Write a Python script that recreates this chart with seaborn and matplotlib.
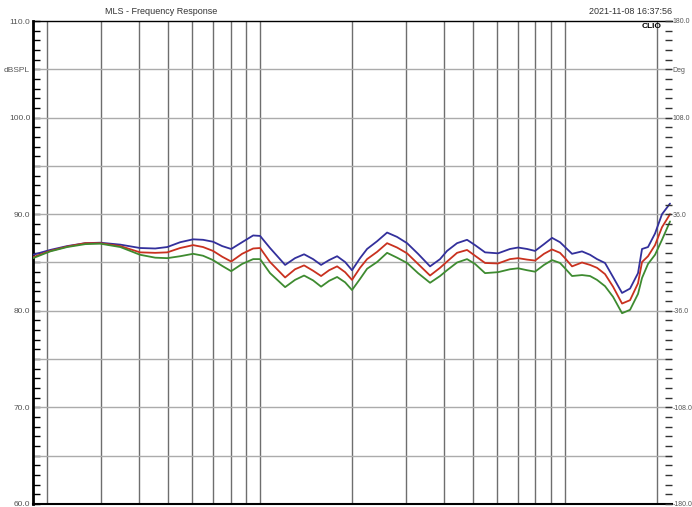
import matplotlib
matplotlib.use('Agg')
import matplotlib.pyplot as plt
import seaborn as sns
import pandas as pd
from matplotlib.ticker import FixedLocator, MultipleLocator, NullFormatter

# frequency points (Hz)
freq_hz = [180, 205, 233, 267, 299, 348, 404, 453, 496, 547, 603, 650, 701, 751,
           804, 873, 949, 1000, 1078, 1208, 1302, 1394, 1492, 1585, 1684, 1789,
           1900, 2002, 2127, 2243, 2419, 2609, 2813, 3034, 3296, 3609, 3892, 4103,
           4425, 4772, 5069, 5467, 6029, 6600, 7015, 7508, 7974, 8532, 9066, 9629,
           10000, 10544, 11368, 12078, 12733, 13526, 14370, 15382, 16339, 17353,
           17887, 18714, 19731, 20797, 22096]

# SPL (dB) of the three traces
spl_blue = [85.8, 86.3, 86.7, 87.0, 87.05, 86.85, 86.5, 86.45, 86.6, 87.1, 87.4, 87.35,
            87.15, 86.7, 86.4, 87.1, 87.8, 87.75, 86.5, 84.75, 85.45, 85.85, 85.35,
            84.75, 85.25, 85.65, 85.05, 84.2, 85.45, 86.4, 87.2, 88.1, 87.65, 87.0,
            85.9, 84.6, 85.35, 86.2, 87.0, 87.35, 86.8, 86.05, 85.95, 86.4, 86.55,
            86.4, 86.2, 86.9, 87.55, 87.1, 86.6, 85.9, 86.15, 85.8, 85.35, 84.95,
            83.5, 81.85, 82.3, 83.9, 86.4, 86.6, 88.0, 90.0, 91.1]
spl_red = [85.55, 86.2, 86.65, 87.0, 87.0, 86.7, 86.05, 86.0, 86.05, 86.5, 86.8, 86.6,
           86.2, 85.6, 85.1, 85.9, 86.45, 86.5, 85.05, 83.45, 84.3, 84.7, 84.15, 83.6,
           84.2, 84.6, 84.0, 83.2, 84.45, 85.35, 86.1, 87.0, 86.55, 85.95, 84.85,
           83.65, 84.45, 85.1, 86.0, 86.3, 85.7, 84.95, 84.9, 85.35, 85.45, 85.3,
           85.2, 85.9, 86.35, 86.0, 85.45, 84.6, 85.0, 84.75, 84.45, 83.8, 82.5,
           80.75, 81.1, 82.85, 85.05, 85.65, 86.8, 88.65, 90.0]
spl_green = [85.45, 86.15, 86.6, 86.9, 86.95, 86.6, 85.8, 85.5, 85.45, 85.65, 85.9,
             85.7, 85.25, 84.65, 84.1, 84.85, 85.35, 85.35, 83.9, 82.45, 83.2, 83.65,
             83.15, 82.5, 83.1, 83.5, 82.95, 82.15, 83.3, 84.35, 85.05, 86.0, 85.5,
             84.95, 83.9, 82.9, 83.6, 84.2, 85.0, 85.35, 84.85, 83.9, 84.0, 84.3,
             84.4, 84.2, 84.05, 84.75, 85.25, 84.95, 84.4, 83.6, 83.7, 83.6, 83.2,
             82.55, 81.45, 79.75, 80.1, 81.75, 83.4, 84.85, 85.8, 87.35, 89.25]

trace_names = ['blue', 'red', 'green']
trace_colors = ['#33309c', '#c9311f', '#3e8b30']

# vertical grid: log divisions 200 Hz .. 20 kHz
vgrid_hz = [200, 300, 400, 500, 600, 700, 800, 900, 1000, 2000, 3000, 4000, 5000,
            6000, 7000, 8000, 9000, 10000, 20000]

spl_ticks = [60, 65, 70, 75, 80, 85, 90, 95, 100, 105, 110]
spl_labels = ['60.0', '', '70.0', '', '80.0', '', '90.0', '', '100.0', 'dBSPL', '110.0']
deg_ticks = [-180, -144, -108, -72, -36, 0, 36, 72, 108, 144, 180]
deg_labels = ['-180.0', '', '-108.0', '', '-36.0', '', '36.0', '', '108.0', 'Deg', '180.0']

df = pd.DataFrame({
    'freq': freq_hz * 3,
    'spl': spl_blue + spl_red + spl_green,
    'trace': [n for n in trace_names for _ in freq_hz],
})

sns.set_theme(style='white')
plt.rcParams['font.family'] = ['Liberation Sans', 'DejaVu Sans']

fig = plt.figure(figsize=(6.92, 5.07), dpi=100)
ax = fig.add_axes([33 / 692, 3 / 507, 639 / 692, 483 / 507])

sns.lineplot(data=df, x='freq', y='spl', hue='trace', palette=trace_colors,
             hue_order=trace_names, linewidth=1.3, errorbar=None, legend=False,
             ax=ax, zorder=3, solid_joinstyle='round', solid_capstyle='round')

ax.set_xscale('log')
ax.set_xlim(180, 22430)
ax.set_ylim(60, 110)
ax.set_xlabel('')
ax.set_ylabel('')

# grid lines
for f in vgrid_hz:
    ax.axvline(f, color='#6e6e6e', lw=1.0, zorder=1)
for s in spl_ticks[1:-1]:
    ax.axhline(s, color='#ababab', lw=1.0, zorder=1)

ax.xaxis.set_major_locator(FixedLocator([]))
ax.xaxis.set_minor_locator(FixedLocator([]))
ax.xaxis.set_minor_formatter(NullFormatter())

ax.set_yticks(spl_ticks, spl_labels)
ax.yaxis.set_minor_locator(MultipleLocator(1))
ax.tick_params(axis='y', which='both', direction='in', length=5, width=1,
               color='black', labelsize=6, labelcolor='#555555', pad=2, left=True)

for side in ['left', 'bottom', 'top']:
    ax.spines[side].set_color('black')
ax.spines['left'].set_linewidth(2)
ax.spines['bottom'].set_linewidth(1.5)
ax.spines['top'].set_linewidth(1)
ax.spines['right'].set_visible(False)

ax2 = ax.twinx()
ax2.set_ylim(-180, 180)
ax2.set_yticks(deg_ticks, deg_labels)
ax2.yaxis.set_minor_locator(MultipleLocator(7.2))
ax2.tick_params(axis='y', which='both', direction='in', length=5, width=1,
                color='#333333', labelsize=5, labelcolor='#555555', pad=0.5, right=True)
for side in ax2.spines:
    ax2.spines[side].set_visible(False)

fig.text(161 / 692, 1 - 12 / 507, 'MLS - Frequency Response', ha='center', va='center',
         fontsize=6.5, color='#333333')
fig.text(672 / 692, 1 - 12 / 507, '2021-11-08 16:37:56', ha='right', va='center',
         fontsize=6.5, color='#333333')
fig.text(662 / 692, 1 - 26 / 507, 'CLIO', ha='right', va='center',
         fontsize=6, weight='bold', color='black')

fig.savefig('out.png', dpi=100)
